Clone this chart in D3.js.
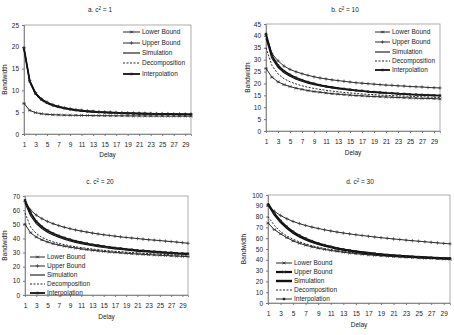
<!DOCTYPE html>
<html>
<head>
<meta charset="utf-8">
<script src="https://cdn.jsdelivr.net/npm/d3@7"></script>
<style>
  body { margin: 0; background: #fff; }
  svg text { font-family: "Liberation Sans", Arial, sans-serif; fill: #222; }
</style>
</head>
<body>
<div id="chart"></div>
<script>
// delay categories 1..30, odd ones labelled
const delays = d3.range(1, 31);
const xTickLabels = d3.range(1, 30, 2);
const seriesNames = ["Lower Bound", "Upper Bound", "Simulation", "Decomposition", "Interpolation"];

// a. c^2 = 1
const aLower = [7.0,5.4,4.9,4.65,4.5,4.42,4.37,4.33,4.3,4.28,4.26,4.24,4.22,4.21,4.2,4.19,4.18,4.17,4.16,4.15,4.14,4.13,4.12,4.12,4.11,4.1,4.1,4.09,4.09,4.08];
const aUpper = [19.8,12.3,9.5,8.1,7.3,6.75,6.35,6.05,5.8,5.6,5.45,5.32,5.22,5.13,5.06,5.0,4.95,4.9,4.86,4.82,4.79,4.76,4.73,4.7,4.68,4.66,4.64,4.62,4.6,4.58];
const aSim = [19.5,12.0,9.2,7.9,7.1,6.6,6.2,5.9,5.65,5.45,5.3,5.18,5.08,5.0,4.93,4.87,4.82,4.78,4.74,4.7,4.67,4.64,4.61,4.59,4.57,4.55,4.53,4.51,4.5,4.48];
const aDecomp = [19.3,11.8,9.0,7.7,6.95,6.45,6.08,5.8,5.57,5.38,5.23,5.11,5.01,4.93,4.86,4.8,4.75,4.71,4.67,4.63,4.6,4.57,4.55,4.52,4.5,4.48,4.46,4.45,4.43,4.42];
const aInterp = [19.6,12.1,9.3,7.95,7.15,6.62,6.22,5.92,5.68,5.48,5.32,5.2,5.1,5.02,4.95,4.89,4.84,4.79,4.75,4.71,4.68,4.65,4.62,4.6,4.58,4.56,4.54,4.52,4.51,4.49];

// b. c^2 = 10
const bLower = [26.3,22.6,20.7,19.5,18.7,18.0,17.5,17.0,16.6,16.3,16.0,15.7,15.5,15.3,15.1,14.9,14.8,14.6,14.5,14.4,14.3,14.2,14.1,14.0,13.9,13.8,13.7,13.7,13.6,13.5];
const bUpper = [40.5,32.5,29.5,27.3,25.9,24.9,24.1,23.4,22.8,22.3,21.9,21.5,21.2,20.9,20.6,20.3,20.1,19.9,19.7,19.5,19.3,19.2,19.0,18.9,18.7,18.6,18.5,18.3,18.2,18.1];
const bSim = [39,30.5,26.8,24.5,23.0,21.8,20.9,20.1,19.5,19.0,18.5,18.1,17.8,17.5,17.2,16.9,16.7,16.5,16.3,16.1,15.9,15.8,15.6,15.5,15.4,15.3,15.2,15.1,15.0,14.9];
const bDecomp = [35,27.5,24.0,22.0,20.7,19.8,19.0,18.4,17.9,17.5,17.1,16.8,16.5,16.2,16.0,15.8,15.6,15.4,15.3,15.1,15.0,14.9,14.8,14.7,14.6,14.5,14.4,14.3,14.2,14.1];
const bInterp = [40.8,31.5,27.6,25.2,23.6,22.4,21.4,20.6,19.9,19.3,18.8,18.4,18.0,17.7,17.4,17.1,16.9,16.6,16.4,16.2,16.0,15.9,15.7,15.6,15.4,15.3,15.2,15.1,15.0,14.9];

// c. c^2 = 20
const cLower = [50,44,41,39,37.5,36.3,35.3,34.5,33.8,33.2,32.6,32.1,31.6,31.2,30.8,30.4,30.1,29.8,29.5,29.2,29.0,28.7,28.5,28.3,28.1,27.9,27.7,27.5,27.3,27.2];
const cUpper = [66,60,56.5,54,52,50.4,49.1,47.9,46.9,46.0,45.2,44.5,43.8,43.2,42.6,42.1,41.6,41.1,40.7,40.3,39.9,39.5,39.1,38.8,38.5,38.1,37.8,37.4,37.0,36.6];
const cSim = [65,56,50.5,47,44.4,42.4,40.8,39.4,38.2,37.2,36.3,35.5,34.8,34.2,33.6,33.1,32.6,32.2,31.8,31.4,31.0,30.7,30.4,30.1,29.8,29.6,29.3,29.1,28.9,28.7];
const cDecomp = [58,48,43.5,40.8,39,37.6,36.5,35.6,34.8,34.1,33.5,33.0,32.5,32.0,31.6,31.2,30.9,30.6,30.3,30.0,29.8,29.5,29.3,29.1,28.9,28.7,28.5,28.3,28.2,28.0];
const cInterp = [67,58,52,48.3,45.6,43.5,41.8,40.4,39.2,38.1,37.2,36.4,35.6,35.0,34.4,33.8,33.3,32.9,32.4,32.0,31.6,31.3,31.0,30.7,30.4,30.1,29.9,29.6,29.4,29.2];

// d. c^2 = 30
const dLower = [74,68,64,60.5,57.5,55.3,53.5,52.0,50.7,49.6,48.6,47.8,47.0,46.3,45.7,45.1,44.6,44.1,43.7,43.3,42.9,42.6,42.3,42.0,41.7,41.4,41.2,40.9,40.7,40.5];
const dUpper = [91,85,81,78,75.5,73.5,71.8,70.3,69.0,67.8,66.7,65.7,64.8,64.0,63.2,62.5,61.8,61.1,60.5,59.9,59.3,58.8,58.2,57.7,57.2,56.7,56.2,55.7,55.2,54.8];
const dSim = [92,82,75,69.5,65,61.5,58.8,56.5,54.6,53.0,51.6,50.4,49.3,48.4,47.5,46.8,46.1,45.5,44.9,44.4,44.0,43.6,43.2,42.8,42.5,42.2,41.9,41.6,41.4,41.2];
const dDecomp = [80,72,66,62,59,56.6,54.7,53.1,51.7,50.5,49.5,48.6,47.8,47.1,46.4,45.8,45.3,44.8,44.3,43.9,43.5,43.1,42.8,42.5,42.2,41.9,41.6,41.4,41.1,40.9];
const dInterp = [91,83,76,70.5,66,62.5,59.7,57.3,55.3,53.6,52.1,50.8,49.7,48.7,47.8,47.0,46.3,45.7,45.1,44.6,44.1,43.7,43.3,42.9,42.6,42.3,42.0,41.7,41.5,41.3];

// line look per series: Lower, Upper, Simulation, Decomposition, Interpolation
const baseStyle = [
  { w: 0.9, dash: null, marker: "x" },
  { w: 0.9, dash: null, marker: "+" },
  { w: 1.1, dash: null, marker: null },
  { w: 0.9, dash: "2,1.5", marker: null },
  { w: 1.8, dash: null, marker: "sq" }
];

const panels = [
  { title: "a. c", sup: "2", tail: " = 1", values: [aLower, aUpper, aSim, aDecomp, aInterp],
    box: { l: 24, r: 191, t: 25, b: 134 }, yMax: 25, yStep: 5,
    titleXY: [100, 12], delayY: 157, yLabelX: 7,
    legend: { x: 123, len: 17, ys: [32, 43, 53, 63, 74] } },
  { title: "b. c", sup: "2", tail: " = 10", values: [bLower, bUpper, bSim, bDecomp, bInterp],
    box: { l: 266, r: 440, t: 24, b: 131 }, yMax: 45, yStep: 5,
    titleXY: [345, 12], delayY: 155, yLabelX: 250,
    legend: { x: 375, len: 15, ys: [32, 42, 52, 61, 70] } },
  { title: "c. c", sup: "2", tail: " = 20", values: [cLower, cUpper, cSim, cDecomp, cInterp],
    box: { l: 25, r: 188, t: 196, b: 295 }, yMax: 70, yStep: 10,
    titleXY: [100, 184], delayY: 319, yLabelX: 7,
    legend: { x: 30, len: 15, ys: [257, 266, 275, 284, 293] } },
  { title: "d. c", sup: "2", tail: " = 30", values: [dLower, dUpper, dSim, dDecomp, dInterp],
    box: { l: 268, r: 450, t: 195, b: 303 }, yMax: 100, yStep: 10,
    titleXY: [360, 184], delayY: 327, yLabelX: 246,
    legend: { x: 276, len: 16, ys: [263, 272, 281, 290, 299] },
    override: { 2: { w: 2.2 } },
    legendOverride: { 1: { w: 2.2, marker: "x" }, 2: { w: 2.4 }, 4: { w: 0.9 } } }
];

const svg = d3.select("#chart").append("svg")
  .attr("width", 454)
  .attr("height", 335);

function drawMarker(g, kind, cx, cy) {
  if (kind === "sq") {
    g.append("rect").attr("x", cx - 1.2).attr("y", cy - 1.2)
      .attr("width", 2.4).attr("height", 2.4).attr("fill", "#222");
  } else if (kind === "x") {
    g.append("path").attr("d", `M${cx-1.4},${cy-1.4}L${cx+1.4},${cy+1.4}M${cx-1.4},${cy+1.4}L${cx+1.4},${cy-1.4}M${cx-1.7},${cy}L${cx+1.7},${cy}`)
      .attr("stroke", "#333").attr("stroke-width", 0.7);
  } else if (kind === "+") {
    g.append("path").attr("d", `M${cx-1.7},${cy}L${cx+1.7},${cy}M${cx},${cy-1.7}L${cx},${cy+1.7}`)
      .attr("stroke", "#333").attr("stroke-width", 0.7);
  }
}

panels.forEach(p => {
  const bx = p.box;
  const x = d3.scaleLinear().domain([1, 30]).range([bx.l, bx.r]);
  const y = d3.scaleLinear().domain([0, p.yMax]).range([bx.b, bx.t]);
  const g = svg.append("g");

  // plot frame
  g.append("rect")
    .attr("x", bx.l).attr("y", bx.t)
    .attr("width", bx.r - bx.l).attr("height", bx.b - bx.t)
    .attr("fill", "none").attr("stroke", "#999").attr("stroke-width", 0.8);

  const yAxis = g.append("g")
    .attr("transform", `translate(${bx.l},0)`)
    .call(d3.axisLeft(y).tickValues(d3.range(0, p.yMax + 0.1, p.yStep)).tickSize(2).tickPadding(3));
  const xAxis = g.append("g")
    .attr("transform", `translate(0,${bx.b})`)
    .call(d3.axisBottom(x).tickValues(xTickLabels).tickSize(2).tickPadding(6));
  [yAxis, xAxis].forEach(ax => {
    ax.select(".domain").attr("stroke", "#777").attr("stroke-width", 0.8);
    ax.selectAll(".tick line").attr("stroke", "#777");
    ax.selectAll("text").style("font-size", "6.5px").attr("fill", "#222");
  });

  // series
  p.values.forEach((vals, i) => {
    const st = Object.assign({}, baseStyle[i], (p.override || {})[i]);
    const line = d3.line().x((d, j) => x(delays[j])).y(d => y(d));
    g.append("path").datum(vals)
      .attr("d", line)
      .attr("fill", "none")
      .attr("stroke", "#111")
      .attr("stroke-width", st.w)
      .attr("stroke-dasharray", st.dash);
    if (st.marker) {
      vals.forEach((v, j) => drawMarker(g, st.marker, x(delays[j]), y(v)));
    }
  });

  // legend
  const lg = p.legend;
  seriesNames.forEach((name, i) => {
    const st = Object.assign({}, baseStyle[i], (p.legendOverride || {})[i]);
    const ly = lg.ys[i];
    g.append("line")
      .attr("x1", lg.x).attr("x2", lg.x + lg.len)
      .attr("y1", ly).attr("y2", ly)
      .attr("stroke", "#111").attr("stroke-width", st.w)
      .attr("stroke-dasharray", st.dash);
    if (st.marker) drawMarker(g, st.marker, lg.x + lg.len / 2, ly);
    g.append("text")
      .attr("x", lg.x + lg.len + 2).attr("y", ly + 2.2)
      .style("font-size", "6.5px")
      .text(name);
  });

  // title
  const t = g.append("text")
    .attr("x", p.titleXY[0]).attr("y", p.titleXY[1])
    .attr("text-anchor", "middle")
    .style("font-size", "6.5px");
  t.append("tspan").text(p.title);
  t.append("tspan").attr("dy", -2.5).style("font-size", "4.5px").text(p.sup);
  t.append("tspan").attr("dy", 2.5).text(p.tail);

  // axis titles
  g.append("text")
    .attr("x", (bx.l + bx.r) / 2).attr("y", p.delayY)
    .attr("text-anchor", "middle")
    .style("font-size", "6.5px")
    .text("Delay");
  g.append("text")
    .attr("transform", `translate(${p.yLabelX},${(bx.t + bx.b) / 2}) rotate(-90)`)
    .attr("text-anchor", "middle")
    .style("font-size", "6.5px")
    .text("Bandwidth");
});
</script>
</body>
</html>
